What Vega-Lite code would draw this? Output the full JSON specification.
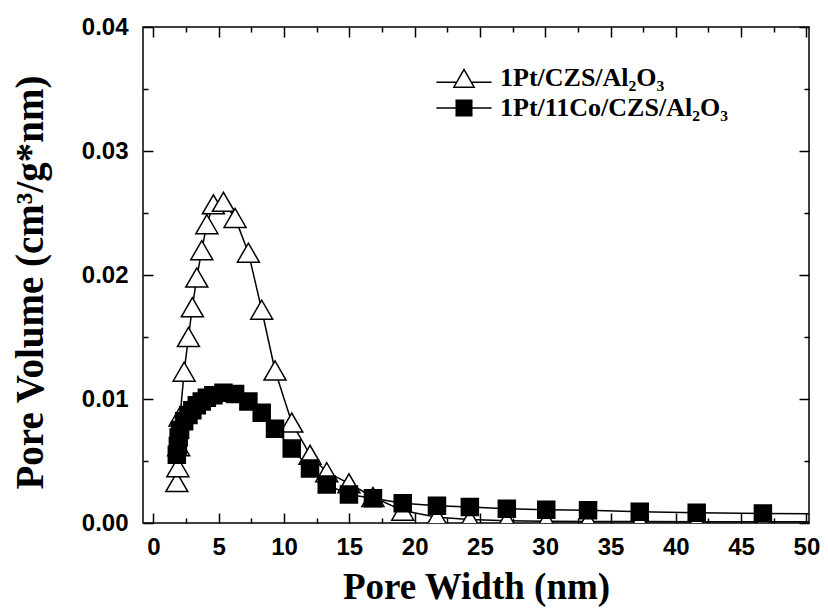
{
  "$schema": "https://vega.github.io/schema/vega-lite/v6.json",
  "width": 666,
  "height": 496,
  "autosize": {"type": "none"},
  "padding": {"left": 143, "top": 27, "right": 19, "bottom": 91},
  "background": "white",
  "config": {
    "view": {"stroke": "black", "strokeWidth": 1.5},
    "axis": {
      "grid": false,
      "domain": false,
      "tickColor": "black",
      "tickWidth": 1.5,
      "labelColor": "black",
      "titleColor": "black",
      "labelFont": "Liberation Sans",
      "labelFontWeight": "bold",
      "labelFontSize": 24,
      "titleFont": "Liberation Serif",
      "titleFontWeight": "bold",
      "labelFlush": false
    },
    "legend": {
      "labelFont": "Liberation Serif",
      "labelFontWeight": "bold",
      "labelFontSize": 26,
      "labelColor": "black",
      "labelLimit": 0,
      "symbolOpacity": 1
    }
  },
  "data": {
    "values": [
      {"s": "1Pt/CZS/Al₂O₃", "w": 1.79, "v": 0.0033},
      {"s": "1Pt/CZS/Al₂O₃", "w": 1.87, "v": 0.0045},
      {"s": "1Pt/CZS/Al₂O₃", "w": 1.93, "v": 0.0062},
      {"s": "1Pt/CZS/Al₂O₃", "w": 2.04, "v": 0.0086},
      {"s": "1Pt/CZS/Al₂O₃", "w": 2.35, "v": 0.0122},
      {"s": "1Pt/CZS/Al₂O₃", "w": 2.68, "v": 0.0150},
      {"s": "1Pt/CZS/Al₂O₃", "w": 2.98, "v": 0.0174},
      {"s": "1Pt/CZS/Al₂O₃", "w": 3.32, "v": 0.0198},
      {"s": "1Pt/CZS/Al₂O₃", "w": 3.70, "v": 0.0220},
      {"s": "1Pt/CZS/Al₂O₃", "w": 4.09, "v": 0.0241},
      {"s": "1Pt/CZS/Al₂O₃", "w": 4.59, "v": 0.0257},
      {"s": "1Pt/CZS/Al₂O₃", "w": 5.36, "v": 0.0259},
      {"s": "1Pt/CZS/Al₂O₃", "w": 6.25, "v": 0.0246},
      {"s": "1Pt/CZS/Al₂O₃", "w": 7.27, "v": 0.0218},
      {"s": "1Pt/CZS/Al₂O₃", "w": 8.29, "v": 0.0172},
      {"s": "1Pt/CZS/Al₂O₃", "w": 9.31, "v": 0.0123},
      {"s": "1Pt/CZS/Al₂O₃", "w": 10.59, "v": 0.0081},
      {"s": "1Pt/CZS/Al₂O₃", "w": 11.99, "v": 0.0055},
      {"s": "1Pt/CZS/Al₂O₃", "w": 13.27, "v": 0.0041},
      {"s": "1Pt/CZS/Al₂O₃", "w": 14.97, "v": 0.0032},
      {"s": "1Pt/CZS/Al₂O₃", "w": 16.81, "v": 0.0021},
      {"s": "1Pt/CZS/Al₂O₃", "w": 19.09, "v": 0.0010},
      {"s": "1Pt/CZS/Al₂O₃", "w": 21.71, "v": 0.00047},
      {"s": "1Pt/CZS/Al₂O₃", "w": 24.23, "v": 0.00028},
      {"s": "1Pt/CZS/Al₂O₃", "w": 27.06, "v": 0.00018},
      {"s": "1Pt/CZS/Al₂O₃", "w": 30.08, "v": 0.00015},
      {"s": "1Pt/CZS/Al₂O₃", "w": 33.28, "v": 0.00013},
      {"s": "1Pt/CZS/Al₂O₃", "w": 37.24, "v": 0.00012},
      {"s": "1Pt/CZS/Al₂O₃", "w": 41.6, "v": 0.0001},
      {"s": "1Pt/CZS/Al₂O₃", "w": 46.67, "v": 0.0001},
      {"s": "1Pt/CZS/Al₂O₃", "w": 51.8, "v": 0.0001},
      {"s": "1Pt/11Co/CZS/Al₂O₃", "w": 1.79, "v": 0.0055},
      {"s": "1Pt/11Co/CZS/Al₂O₃", "w": 1.87, "v": 0.0062},
      {"s": "1Pt/11Co/CZS/Al₂O₃", "w": 1.93, "v": 0.0069},
      {"s": "1Pt/11Co/CZS/Al₂O₃", "w": 2.04, "v": 0.0075},
      {"s": "1Pt/11Co/CZS/Al₂O₃", "w": 2.35, "v": 0.0082},
      {"s": "1Pt/11Co/CZS/Al₂O₃", "w": 2.68, "v": 0.0087},
      {"s": "1Pt/11Co/CZS/Al₂O₃", "w": 2.98, "v": 0.0091},
      {"s": "1Pt/11Co/CZS/Al₂O₃", "w": 3.32, "v": 0.0095},
      {"s": "1Pt/11Co/CZS/Al₂O₃", "w": 3.70, "v": 0.0098},
      {"s": "1Pt/11Co/CZS/Al₂O₃", "w": 4.09, "v": 0.0101},
      {"s": "1Pt/11Co/CZS/Al₂O₃", "w": 4.59, "v": 0.0103},
      {"s": "1Pt/11Co/CZS/Al₂O₃", "w": 5.36, "v": 0.0105},
      {"s": "1Pt/11Co/CZS/Al₂O₃", "w": 6.25, "v": 0.0104},
      {"s": "1Pt/11Co/CZS/Al₂O₃", "w": 7.27, "v": 0.0098},
      {"s": "1Pt/11Co/CZS/Al₂O₃", "w": 8.29, "v": 0.0089},
      {"s": "1Pt/11Co/CZS/Al₂O₃", "w": 9.31, "v": 0.0076},
      {"s": "1Pt/11Co/CZS/Al₂O₃", "w": 10.59, "v": 0.0060},
      {"s": "1Pt/11Co/CZS/Al₂O₃", "w": 11.99, "v": 0.0044},
      {"s": "1Pt/11Co/CZS/Al₂O₃", "w": 13.27, "v": 0.0031},
      {"s": "1Pt/11Co/CZS/Al₂O₃", "w": 14.97, "v": 0.0023},
      {"s": "1Pt/11Co/CZS/Al₂O₃", "w": 16.81, "v": 0.0020},
      {"s": "1Pt/11Co/CZS/Al₂O₃", "w": 19.09, "v": 0.0016},
      {"s": "1Pt/11Co/CZS/Al₂O₃", "w": 21.71, "v": 0.0014},
      {"s": "1Pt/11Co/CZS/Al₂O₃", "w": 24.23, "v": 0.0013},
      {"s": "1Pt/11Co/CZS/Al₂O₃", "w": 27.06, "v": 0.00115},
      {"s": "1Pt/11Co/CZS/Al₂O₃", "w": 30.08, "v": 0.00107},
      {"s": "1Pt/11Co/CZS/Al₂O₃", "w": 33.28, "v": 0.00102},
      {"s": "1Pt/11Co/CZS/Al₂O₃", "w": 37.24, "v": 0.00091},
      {"s": "1Pt/11Co/CZS/Al₂O₃", "w": 41.6, "v": 0.00083},
      {"s": "1Pt/11Co/CZS/Al₂O₃", "w": 46.67, "v": 0.00077},
      {"s": "1Pt/11Co/CZS/Al₂O₃", "w": 51.8, "v": 0.00073}
    ]
  },
  "layer": [
    {
      "mark": {"type": "line", "color": "black", "strokeWidth": 1.5, "clip": true},
      "encoding": {
        "x": {
          "field": "w", "type": "quantitative",
          "scale": {"domain": [-0.8, 50.2], "nice": false, "zero": false},
          "axis": {
            "orient": "bottom",
            "values": [0, 5, 10, 15, 20, 25, 30, 35, 40, 45, 50],
            "tickSize": -10,
            "labelPadding": 22,
            "title": "Pore Width (nm)",
            "titleFontSize": 37,
            "titleBaseline": "alphabetic",
            "titleY": 75
          }
        },
        "y": {
          "field": "v", "type": "quantitative",
          "scale": {"domain": [0, 0.04], "nice": false, "zero": false},
          "axis": {
            "orient": "left",
            "values": [0, 0.01, 0.02, 0.03, 0.04],
            "format": ".2f",
            "tickSize": -10,
            "labelPadding": 25,
            "title": "Pore Volume (cm³/g*nm)",
            "titleFontSize": 39,
            "titleAngle": -90,
            "titleAlign": "center",
            "titleBaseline": "alphabetic",
            "titleX": -101,
            "titleY": 255
          }
        },
        "detail": {"field": "s"}
      }
    },
    {
      "transform": [{"filter": "datum.s == '1Pt/CZS/Al₂O₃'"}],
      "mark": {"type": "point", "shape": "triangle-up", "filled": true, "fill": "white", "stroke": "black", "strokeWidth": 1.5, "opacity": 1, "size": 484, "clip": true},
      "encoding": {
        "x": {
          "field": "w", "type": "quantitative",
          "scale": {"domain": [-0.8, 50.2], "nice": false, "zero": false},
          "axis": {"orient": "bottom", "values": [2.5, 7.5, 12.5, 17.5, 22.5, 27.5, 32.5, 37.5, 42.5, 47.5], "tickSize": -5, "labels": false, "title": null}
        },
        "y": {
          "field": "v", "type": "quantitative",
          "scale": {"domain": [0, 0.04], "nice": false, "zero": false},
          "axis": {"orient": "left", "values": [0.005, 0.015, 0.025, 0.035], "tickSize": -5, "labels": false, "title": null}
        }
      }
    },
    {
      "transform": [{"filter": "datum.s == '1Pt/11Co/CZS/Al₂O₃'"}],
      "mark": {"type": "point", "shape": "square", "filled": true, "fill": "black", "stroke": "black", "strokeWidth": 1.5, "opacity": 1, "size": 289, "clip": true},
      "encoding": {
        "x": {
          "field": "w", "type": "quantitative",
          "scale": {"domain": [-0.8, 50.2], "nice": false, "zero": false},
          "axis": null
        },
        "y": {
          "field": "v", "type": "quantitative",
          "scale": {"domain": [0, 0.04], "nice": false, "zero": false},
          "axis": null
        }
      }
    },
    {
      "mark": {"type": "point", "filled": true, "fill": "black", "opacity": 0, "clip": true},
      "encoding": {
        "x": {
          "field": "w", "type": "quantitative",
          "scale": {"domain": [-0.8, 50.2], "nice": false, "zero": false},
          "axis": null
        },
        "y": {
          "field": "v", "type": "quantitative",
          "scale": {"domain": [0, 0.04], "nice": false, "zero": false},
          "axis": null
        },
        "shape": {
          "field": "s", "type": "nominal",
          "scale": {
            "domain": ["1Pt/CZS/Al₂O₃", "1Pt/11Co/CZS/Al₂O₃"],
            "range": [
              "M0,-0.87L1,0.87L-1,0.87ZM0,-0.61L-0.775,0.74L0.775,0.74ZM-2.4,0.31H-0.7V0.43H-2.4ZM0.7,0.31H2.4V0.43H0.7Z",
              "M-0.74,-0.74H0.74V0.74H-0.74ZM-2.4,-0.065H-0.74V0.065H-2.4ZM0.74,-0.065H2.4V0.065H0.74Z"
            ]
          },
          "legend": {
            "title": null,
            "orient": "none",
            "legendX": 308,
            "legendY": 38,
            "padding": 0,
            "symbolSize": 529,
            "symbolOpacity": 1,
            "symbolFillColor": "black",
            "labelOffset": 23,
            "rowPadding": 3
          }
        }
      }
    },
    {
      "mark": {"type": "point", "opacity": 0},
      "encoding": {
        "x": {
          "field": "w", "type": "quantitative",
          "scale": {"domain": [-0.8, 50.2], "nice": false, "zero": false},
          "axis": {"orient": "top", "values": [0, 5, 10, 15, 20, 25, 30, 35, 40, 45, 50], "tickSize": -10, "labels": false, "title": null}
        },
        "y": {
          "field": "v", "type": "quantitative",
          "scale": {"domain": [0, 0.04], "nice": false, "zero": false},
          "axis": {"orient": "right", "values": [0, 0.01, 0.02, 0.03, 0.04], "tickSize": -10, "labels": false, "title": null}
        }
      }
    },
    {
      "mark": {"type": "point", "opacity": 0},
      "encoding": {
        "x": {
          "field": "w", "type": "quantitative",
          "scale": {"domain": [-0.8, 50.2], "nice": false, "zero": false},
          "axis": {"orient": "top", "values": [2.5, 7.5, 12.5, 17.5, 22.5, 27.5, 32.5, 37.5, 42.5, 47.5], "tickSize": -5, "labels": false, "title": null}
        },
        "y": {
          "field": "v", "type": "quantitative",
          "scale": {"domain": [0, 0.04], "nice": false, "zero": false},
          "axis": {"orient": "right", "values": [0.005, 0.015, 0.025, 0.035], "tickSize": -5, "labels": false, "title": null}
        }
      }
    }
  ],
  "resolve": {"axis": {"x": "independent", "y": "independent"}}
}
